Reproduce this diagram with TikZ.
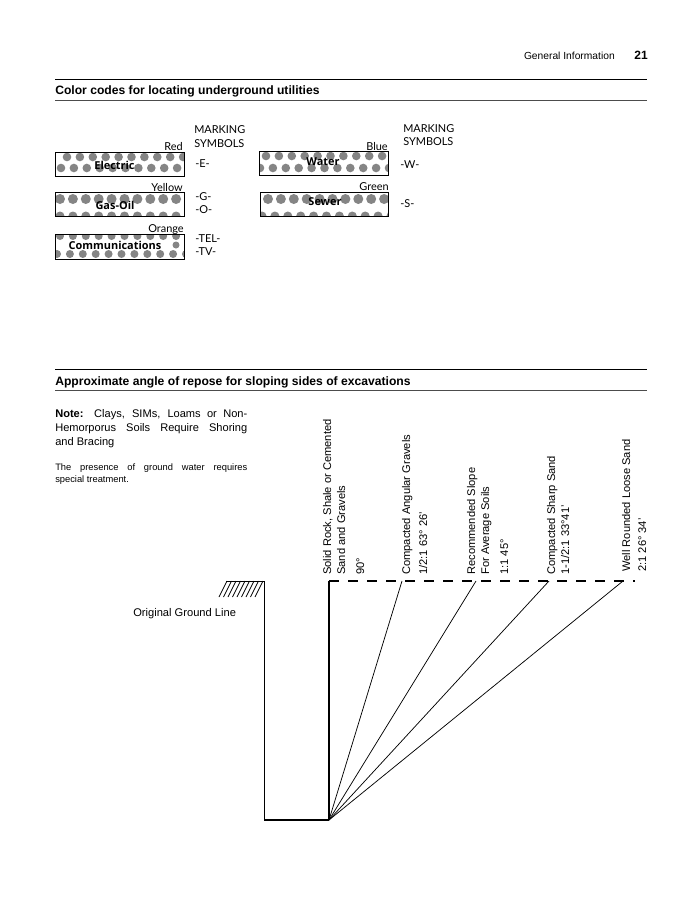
\documentclass[tikz,border=0pt]{standalone}
\usepackage{fontspec}
\setmainfont{Liberation Sans}
\newfontfamily\gillfont{Lato}
\newfontfamily\boxfont{Open Sans}
\newcommand{\szA}{\fontsize{7.7pt}{9pt}\selectfont}
\newcommand{\szB}{\fontsize{8.35pt}{10pt}\selectfont}
\newcommand{\szC}{\fontsize{9.1pt}{11pt}\bfseries\selectfont}
\newcommand{\szD}{\fontsize{8.2pt}{10pt}\gillfont\selectfont}
\newcommand{\szE}{\fontsize{8.2pt}{10pt}\boxfont\bfseries\selectfont}
\newcommand{\dotrow}[3]{\foreach \i in {0,...,10} \fill[dotgray] ({#1+\i*12.9},#2) circle[radius=#3];}
\colorlet{dotgray}{black!48}
\tikzset{
  rule/.style={line width=0.5pt,black},
  thinrule/.style={line width=0.3pt,black!70},
  head/.style={anchor=base west,inner sep=0pt,font=\szC},
  gen/.style={anchor=base west,inner sep=0pt,font=\szA},
  marksym/.style={anchor=base west,inner sep=0pt,font=\szD},
  colr/.style={anchor=base east,inner sep=0pt,font=\szD},
  util/.style={inner sep=0pt,font=\szE},
  boxline/.style={draw=black,line width=0.5pt},
  rot/.style={rotate=90,anchor=base west,inner sep=0pt,font=\szB},
  wall/.style={line width=0.45pt},
  slope/.style={line width=0.55pt},
}
\begin{document}
\begin{tikzpicture}[x=0.75pt,y=-0.75pt]
\useasboundingbox[fill=white] (0,0) rectangle (695,900);
% header
\node[gen,anchor=base east] (genfo) at (615,59) {General Information};
\node[gen,anchor=base east,font=\fontsize{9pt}{10pt}\bfseries\selectfont] (pg) at (648,59) {21};
\coordinate (r1a) at (55,79); \coordinate (r1b) at (647,79);
\coordinate (r2a) at (55,100); \coordinate (r2b) at (647,100);
\coordinate (r3a) at (55,369); \coordinate (r3b) at (647,369);
\coordinate (r4a) at (55,390); \coordinate (r4b) at (647,390);
\draw[rule] (r1a)--(r1b); \draw[thinrule] (r2a)--(r2b);
\draw[rule] (r3a)--(r3b); \draw[thinrule] (r4a)--(r4b);
\node[head] (t1) at (55,94) {Color codes for locating underground utilities};
\node[head] (t2) at (55,385) {Approximate angle of repose for sloping sides of excavations};
% boxes
\begin{scope}
\clip (55,152) rectangle (184,176);
\dotrow{67}{157}{4.3}\dotrow{61}{168}{4.3}
\end{scope}
\draw[boxline] (55,152) rectangle (184,176);
\begin{scope}
\clip (55,192) rectangle (184,216);
\dotrow{60}{199}{5}\dotrow{60}{216}{4.5}
\end{scope}
\draw[boxline] (55,192) rectangle (184,216);
\begin{scope}
\clip (55,234) rectangle (184,259);
\dotrow{60}{236}{4}\dotrow{57}{254}{4}\dotrow{176}{245}{3.5}
\end{scope}
\draw[boxline] (55,234) rectangle (184,259);
\begin{scope}
\clip (259,151) rectangle (388,175);
\dotrow{266}{156}{4.3}\dotrow{260}{168}{4.3}
\end{scope}
\draw[boxline] (259,151) rectangle (388,175);
\begin{scope}
\clip (260,192) rectangle (388,216);
\dotrow{268}{199}{5}\dotrow{262}{216}{4.5}
\end{scope}
\draw[boxline] (260,192) rectangle (388,216);
\node[util] (elec) at (114.5,165) {Electric};
\node[util] (gas) at (115,205) {Gas-Oil};
\node[util] (comm) at (115,245) {Communications};
\node[util] (water) at (323,162) {Water};
\node[util] (sewer) at (325,202) {Sewer};
% colour names
\node[colr] (cRed) at (183,150) {Red};
\node[colr] (cYel) at (183,191) {Yellow};
\node[colr] (cOra) at (184,232) {Orange};
\node[colr] (cBlu) at (388,150) {Blue};
\node[colr] (cGre) at (389,190) {Green};
% marking symbols
\node[marksym] (m1) at (194,133) {MARKING};
\node[marksym] (s1) at (194,147) {SYMBOLS};
\node[marksym] (m2) at (403,132) {MARKING};
\node[marksym] (s2) at (403,145) {SYMBOLS};
\node[marksym] (mE) at (195,167) {-E-};
\node[marksym] (mG) at (195,200) {-G-};
\node[marksym] (mO) at (195,213) {-O-};
\node[marksym] (mT) at (195,242) {-TEL-};
\node[marksym] (mV) at (195,255) {-TV-};
\node[marksym] (mW) at (400,168) {-W-};
\node[marksym] (mS) at (400,207) {-S-};
% note
\node[anchor=base west,inner sep=0pt,font=\fontsize{8.3pt}{10pt}\selectfont] (n1) at (55,417) {\hbox to 144pt{\textbf{Note:} Clays, SIMs, Loams or Non-}};
\node[anchor=base west,inner sep=0pt,font=\fontsize{8.3pt}{10pt}\selectfont] (n2) at (55,431) {\hbox to 144pt{Hemorporus Soils Require Shoring}};
\node[anchor=base west,inner sep=0pt,font=\fontsize{8.3pt}{10pt}\selectfont] (n3) at (55,445) {and Bracing};
\node[anchor=base west,inner sep=0pt,font=\fontsize{7pt}{9pt}\selectfont] (n4) at (55,470) {\hbox to 144pt{The presence of ground water requires}};
\node[anchor=base west,inner sep=0pt,font=\fontsize{7pt}{9pt}\selectfont] (n5) at (55,482) {special treatment.};
% rotated labels
\node[rot] (a1) at (331,575) {Solid Rock, Shale or Cemented};
\node[rot] (a2) at (345,575) {Sand and Gravels};
\node[rot] (a3) at (364,575) {90°};
\node[rot] (b1) at (410,575) {Compacted Angular Gravels};
\node[rot] (b2) at (427,575) {1/2:1 63° 26'};
\node[rot] (c1) at (475,575) {Recommended Slope};
\node[rot] (c2) at (489,575) {For Average Soils};
\node[rot] (c3) at (508,575) {1:1 45°};
\node[rot] (d1) at (555,575) {Compacted Sharp Sand};
\node[rot] (d2) at (569,575) {1-1/2:1 33°41'};
\node[rot] (e1) at (630,572) {Well Rounded Loose Sand};
\node[rot] (e2) at (646,572) {2:1 26° 34'};
\node[anchor=base west,inner sep=0pt,font=\fontsize{8.35pt}{10pt}\selectfont] (ogl) at (133,616) {Original Ground Line};
% excavation
\coordinate (gl) at (226,581);
\coordinate (tl) at (264,581);
\coordinate (bl) at (264,820);
\coordinate (apex) at (329,820);
\coordinate (tr) at (329,581);
\coordinate (t1e) at (402,581);
\coordinate (t2e) at (476,581);
\coordinate (t3e) at (549,581);
\coordinate (t4e) at (623,581);
\coordinate (tend) at (635,581);
\draw[wall] (gl)--(tl)--(bl);
\draw[line width=0.8pt] (bl)--(apex);
\draw[line width=1pt] (apex)--(tr);
\foreach \x in {227,231.5,...,263} \draw[line width=0.6pt] (\x,581)--(\x-8,597);
\draw[line width=0.9pt,dash pattern=on 7.5pt off 6.75pt] (tr)--(tend);
\draw[slope] (apex)--(t1e);
\draw[slope] (apex)--(t2e);
\draw[slope] (apex)--(t3e);
\draw[slope] (apex)--(t4e);
\end{tikzpicture}
\end{document}
